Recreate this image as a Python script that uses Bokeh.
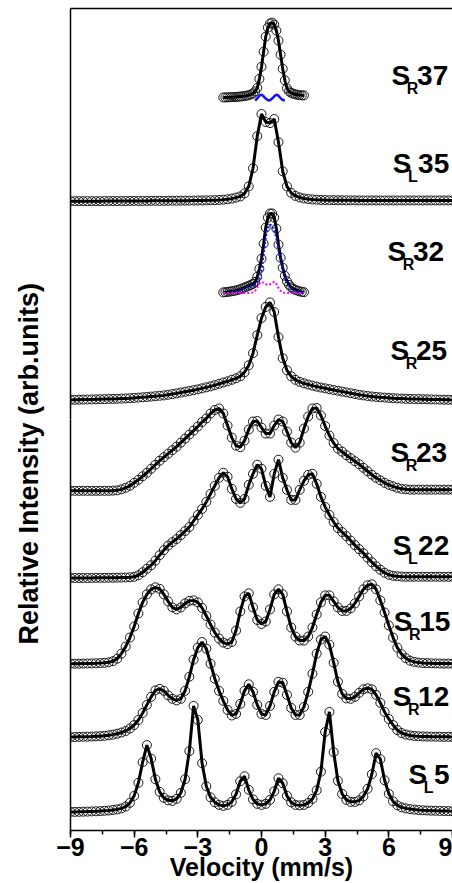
from bokeh.plotting import figure
from bokeh.models import Range1d, LinearAxis, SingleIntervalTicker, FixedTicker, Title
from bokeh.core.properties import value
from bokeh.embed import file_html
from bokeh.resources import INLINE

# ---------------- data (relative intensity, arb. units) ----------------
velocity = [-9.0, -8.8, -8.6, -8.4, -8.2, -8.0, -7.8, -7.6, -7.4, -7.2,
            -7.0, -6.8, -6.6, -6.4, -6.2, -6.0, -5.8, -5.6, -5.4, -5.2,
            -5.0, -4.8, -4.6, -4.4, -4.2, -4.0, -3.8, -3.6, -3.4, -3.2,
            -3.0, -2.8, -2.6, -2.4, -2.2, -2.0, -1.8, -1.6, -1.4, -1.2,
            -1.0, -0.8, -0.6, -0.4, -0.2, 0.0, 0.2, 0.4, 0.6, 0.8,
            1.0, 1.2, 1.4, 1.6, 1.8, 2.0, 2.2, 2.4, 2.6, 2.8,
            3.0, 3.2, 3.4, 3.6, 3.8, 4.0, 4.2, 4.4, 4.6, 4.8,
            5.0, 5.2, 5.4, 5.6, 5.8, 6.0, 6.2, 6.4, 6.6, 6.8,
            7.0, 7.2, 7.4, 7.6, 7.8, 8.0, 8.2, 8.4, 8.6, 8.8, 9.0]

velocity_narrow = [-1.8, -1.7, -1.6, -1.5, -1.4, -1.3, -1.2, -1.1, -1.0, -0.9,
                   -0.8, -0.7, -0.6, -0.5, -0.4, -0.3, -0.2, -0.1, 0.0, 0.1,
                   0.2, 0.3, 0.4, 0.5, 0.6, 0.7, 0.8, 0.9, 1.0, 1.1,
                   1.2, 1.3, 1.4, 1.5, 1.6, 1.7, 1.8, 1.9, 2.0]

SL5 = [0.5, 0.5, 0.6, 0.7, 0.8, 1.0, 1.1, 1.3, 1.6, 1.9,
       2.4, 3.0, 4.0, 5.8, 9.5, 16.5, 29.5, 50, 67, 53.5,
       33, 20.5, 14.5, 12, 11.5, 13.5, 19.5, 33, 61, 106,
       92, 49, 26, 15, 10, 7.5, 6.5, 7.5, 10.5, 18,
       31, 36, 22.5, 13, 8.5, 7.5, 8.5, 12.5, 21, 34,
       29, 16.5, 10, 7.5, 7, 7.5, 9.5, 13.5, 22, 40.5,
       80, 100, 60, 31.5, 18.5, 12.5, 10.5, 10.5, 12, 16,
       23.5, 38, 59, 53, 32, 18.5, 11, 7, 5, 4,
       3.3, 2.8, 2.4, 2.1, 1.9, 1.7, 1.6, 1.5, 1.4, 1.3, 1.2]

SR12 = [0, 0, 0.2, 0.3, 0.4, 0.5, 0.7, 0.9, 1.2, 1.7,
        2.4, 3.3, 4.5, 6, 8.5, 12, 17, 24, 32, 40,
        46.5, 48, 46, 41.5, 38, 36.5, 38, 46, 60, 77,
        89, 94.5, 88, 73, 58, 46, 36, 27, 21.5, 23,
        33, 46, 52.5, 45, 32, 23, 22, 31, 45, 55,
        54, 42, 29, 22, 22, 30, 45, 63, 83, 97,
        100, 92, 74, 55, 43, 38.5, 38, 40, 44, 47.5,
        48.5, 47.5, 42, 34, 25, 18, 12, 7, 4, 2.5,
        1.6, 1.1, 0.8, 0.6, 0.5, 0.4, 0.3, 0.3, 0.2, 0.2, 0.1]

SR15 = [0, 0, 0, 0.1, 0.2, 0.3, 0.4, 0.6, 0.9, 1.4,
        2.5, 5, 10, 17, 26, 37, 50, 61, 69, 74,
        76, 74.5, 69, 62, 56, 54, 56, 60, 62.5, 63,
        61, 55.5, 47.5, 39, 31, 25, 21, 19.5, 21.5, 33,
        52, 67, 70, 56, 43.5, 39.5, 42, 54, 69, 74,
        69, 52, 36, 27, 23, 23, 27, 36, 49, 61,
        68, 68, 62, 56, 52.5, 52.5, 55, 60, 67, 74,
        78, 79, 74, 63, 51, 38, 26, 16, 9.5, 5.5,
        3, 1.8, 1.1, 0.7, 0.5, 0.4, 0.3, 0.2, 0.1, 0.1, 0]

SL22 = [0.3, 0.3, 0.3, 0.3, 0.3, 0.3, 0.4, 0.4, 0.4, 0.5,
        0.5, 0.6, 0.7, 0.8, 1.0, 1.5, 3, 6, 9.5, 13,
        17.5, 23, 28, 32.5, 36, 39, 43, 47, 51, 57,
        63, 69, 76, 84, 92, 100, 105, 101, 89, 79,
        75, 79, 93, 104, 113, 109, 92, 81, 104, 118,
        100, 88, 78, 78, 88, 97, 103, 104, 94, 81,
        71, 63, 56, 50, 46, 42, 37.5, 33, 29, 25,
        20.5, 16, 12, 8.5, 5.5, 3.5, 2.5, 2, 1.7, 1.5,
        1.5, 1.5, 1.5, 1.5, 1.5, 1.5, 1.5, 1.5, 1.5, 1.5, 1.5]

SR23 = [0, 0, 0, 0, 0, 0, 0, 0, 0, 0,
        0.2, 0.5, 1.5, 3, 5, 8, 11, 14.5, 18, 22,
        26, 30, 33.5, 37, 40.5, 44, 48, 52, 56, 60,
        64, 68.5, 72, 77, 80.5, 82, 77, 65, 53, 45,
        43.5, 50, 61, 69, 69.5, 63, 57, 57, 65, 71,
        69, 59, 48, 43, 48, 62, 74, 82, 82.5, 75,
        64.5, 55, 47.5, 42, 39, 35.5, 32.5, 29.5, 26.5, 23,
        19.5, 16, 13, 10.5, 8, 6, 4.5, 3, 2, 1.5,
        1.2, 1.2, 1.2, 1.2, 1.2, 1.2, 1.2, 1.2, 1.2, 1.2, 1.2]

SR25 = [0.5, 0.6, 0.7, 0.8, 0.9, 1.0, 1.1, 1.2, 1.3, 1.4,
        1.5, 1.6, 1.8, 2.0, 2.2, 2.5, 2.8, 3.1, 3.4, 3.8,
        4.2, 4.6, 5.0, 5.6, 6.3, 7.0, 7.8, 8.6, 9.4, 10.2,
        11, 12, 13, 14, 15.2, 16.5, 17.8, 19, 20.5, 22,
        24, 28, 35, 47, 65, 82, 93, 97.5, 88, 63,
        42, 30, 24, 20.5, 18.5, 17, 15.8, 14.7, 13.7, 12.8,
        12, 11.2, 10.4, 9.6, 8.8, 8, 7.2, 6.4, 5.6, 5,
        4.4, 3.9, 3.5, 3.1, 2.8, 2.5, 2.2, 2.0, 1.8, 1.6,
        1.5, 1.4, 1.3, 1.2, 1.1, 1.0, 0.9, 0.8, 0.7, 0.6, 0.5]

SL35 = [0.3, 0.3, 0.3, 0.3, 0.3, 0.3, 0.3, 0.3, 0.4, 0.4,
        0.4, 0.4, 0.4, 0.4, 0.5, 0.5, 0.5, 0.5, 0.5, 0.6,
        0.6, 0.6, 0.6, 0.7, 0.7, 0.7, 0.8, 0.8, 0.8, 0.9,
        1.0, 1.0, 1.1, 1.2, 1.3, 1.5, 1.8, 2.2, 2.8, 3.8,
        5, 8, 15, 33, 65, 87, 79, 78, 82, 59,
        30, 15, 8.5, 5.5, 4, 3, 2.4, 2.0, 1.7, 1.5,
        1.4, 1.3, 1.3, 1.2, 1.2, 1.1, 1.1, 1.1, 1.0, 1.0,
        1.0, 1.0, 1.0, 1.0, 1.0, 1.0, 1.0, 1.0, 1.0, 1.0,
        1.0, 1.0, 1.0, 1.0, 1.0, 1.0, 1.0, 1.0, 1.0, 1.0, 1.0]

SR32 = [1.5, 1.7, 2, 2.3, 2.6, 3, 3.5, 4, 4.7, 5.5,
        6.3, 7.2, 8, 9, 10, 12, 17, 25, 35, 50,
        66, 76, 80, 80, 76, 65, 49, 36, 26, 18,
        12.5, 9, 6.5, 5, 4, 3.2, 2.5, 2, 1.7]
SR32_blue = [0.5, 0.7, 1, 1.3, 1.6, 2, 2.5, 3, 3.7, 4.5,
             5.3, 6.2, 7, 8, 8.5, 9, 11, 15, 23, 39,
             56, 66, 69, 68, 63, 55, 43, 33, 24.5, 17,
             11.5, 8, 5.5, 4, 3, 2.2, 1.5, 1, 0.7]
SR32_magenta = [1, 1, 1, 1, 1, 1, 1, 1, 1, 1,
                1, 1, 1, 1, 1.5, 3, 6, 10, 12, 11,
                9.5, 9, 9.5, 11, 12, 10, 6, 3, 1.5, 1,
                1, 1, 1, 1, 1, 1, 1, 1, 1]

SR37 = [0.5, 0.5, 0.6, 0.7, 0.8, 0.9, 1.0, 1.2, 1.4, 1.6,
        1.9, 2.3, 2.8, 3.5, 4.5, 6.5, 10, 19, 31, 46,
        61, 70, 74, 75, 73, 67, 57, 43, 29, 17.5,
        9.5, 6.5, 5, 4.2, 3.6, 3.1, 2.8, 2.6, 2.5]
SR37_blue_v = [-0.3, -0.2, -0.1, 0.0, 0.1, 0.2, 0.3, 0.4, 0.5, 0.6, 0.7, 0.8, 0.9, 1.0, 1.1]
SR37_blue = [-2.6, -0.5, 2.2, 3.2, 1.6, -0.6, -2.2, -2.2, -0.6, 1.6, 3.3, 2.2, -0.2, -2.0, -2.6]

# sample names: (subscript, number)
sample_sub = ["R", "L", "R", "R", "R", "L", "R", "R", "L"]
sample_num = ["37", "35", "32", "25", "23", "22", "15", "12", "5"]
sample_data = [SR37, SL35, SR32, SR25, SR23, SL22, SR15, SR12, SL5]
sample_is_narrow = [True, False, True, False, False, False, False, False, False]
# vertical stacking offsets of each spectrum
stack_offset = [729, 626, 534, 428, 338, 251, 166, 93, 18]

# label placement (S left edge in mm/s, S baseline in intensity units)
label_x = [6.13, 6.18, 5.94, 6.08, 6.08, 6.18, 6.23, 6.18, 6.93]
label_y = [751, 664, 576, 478, 376, 284, 208, 133, 56]

# ---------------- figure ----------------
FONT = value("Liberation Sans")

p = figure(width=452, height=883, x_range=Range1d(-9, 9), y_range=Range1d(0, 818),
           output_backend="svg", toolbar_location=None,
           min_border_left=69, min_border_right=0, min_border_top=8, min_border_bottom=0)
p.xgrid.visible = False
p.ygrid.visible = False
p.outline_line_color = None
p.background_fill_color = "white"
p.border_fill_color = "white"

xa = p.xaxis[0]
xa.ticker = SingleIntervalTicker(interval=3, num_minor_ticks=2)
xa.axis_label = "Velocity (mm/s)"
xa.axis_label_text_font = "Liberation Sans"
xa.axis_label_text_font_style = "bold"
xa.axis_label_text_font_size = "25px"
xa.axis_label_text_color = "black"
xa.axis_label_standoff = -6
xa.major_label_text_font = "Liberation Sans"
xa.major_label_text_font_style = "bold"
xa.major_label_text_font_size = "25px"
xa.major_label_text_color = "black"
xa.major_label_standoff = 0
xa.axis_line_width = 1.5
xa.axis_line_color = "black"
xa.major_tick_line_width = 1.5
xa.minor_tick_line_width = 1.5
xa.major_tick_in = 0
xa.major_tick_out = 7
xa.minor_tick_in = 0
xa.minor_tick_out = 4

# left axis: plain line; one blank white tick only reserves room that spaces the title
ya = p.yaxis[0]
ya.ticker = FixedTicker(ticks=[409])
ya.major_label_overrides = {409: ""}
ya.major_tick_line_color = "white"
ya.major_tick_line_width = 0.5
ya.major_tick_in = 0
ya.major_tick_out = 15
ya.minor_tick_line_color = None
ya.major_label_standoff = 0
ya.major_label_text_font_size = "0px"
ya.axis_line_width = 1.5
ya.axis_line_color = "black"

top = LinearAxis(ticker=FixedTicker(ticks=[]), major_tick_line_color=None,
                 minor_tick_line_color=None, major_label_text_font_size="0px",
                 axis_line_width=1.5, axis_line_color="black")
p.add_layout(top, "above")

# y-axis title, starting a fixed distance above the frame bottom (as in the original)
ytitle = Title(text="Relative Intensity (arb.units)", align="left", offset=186,
               standoff=23, text_font="Liberation Sans", text_font_style="bold",
               text_font_size="27px", text_color="black")
p.add_layout(ytitle, "left")

for data, off, narrow in zip(sample_data, stack_offset, sample_is_narrow):
    xs = velocity_narrow if narrow else velocity
    ys = [off + v for v in data]
    p.scatter(xs, ys, marker="circle", size=9, fill_color=None,
              line_color="#1a1a1a", line_width=1.0)
    p.line(xs, ys, line_color="black", line_width=3)

# fit components
p.line(SR37_blue_v, [stack_offset[0] + v for v in SR37_blue], line_color="#1010ff", line_width=2.5)
p.line(velocity_narrow, [stack_offset[2] + v for v in SR32_blue], line_color="#1010ff",
       line_width=2, line_dash="2 2")
p.line(velocity_narrow, [stack_offset[2] + v for v in SR32_magenta], line_color="#ff00ff",
       line_width=2, line_dash="2 2")

# sample labels
sub_x = [x + 0.72 for x in label_x]
num_x = [x + 1.2 for x in label_x]
sub_y = [y - 13 for y in label_y]
p.text(x=label_x, y=label_y, text=["S"] * len(label_x), text_font=FONT,
       text_font_style="bold", text_font_size="28px", text_baseline="alphabetic",
       text_align="left", text_color="black")
p.text(x=sub_x, y=sub_y, text=sample_sub, text_font=FONT,
       text_font_style="bold", text_font_size="16px", text_baseline="alphabetic",
       text_align="left", text_color="black")
p.text(x=num_x, y=label_y, text=sample_num, text_font=FONT,
       text_font_style="bold", text_font_size="28px", text_baseline="alphabetic",
       text_align="left", text_color="black")

open("out.html", "w").write(file_html(p, INLINE))
